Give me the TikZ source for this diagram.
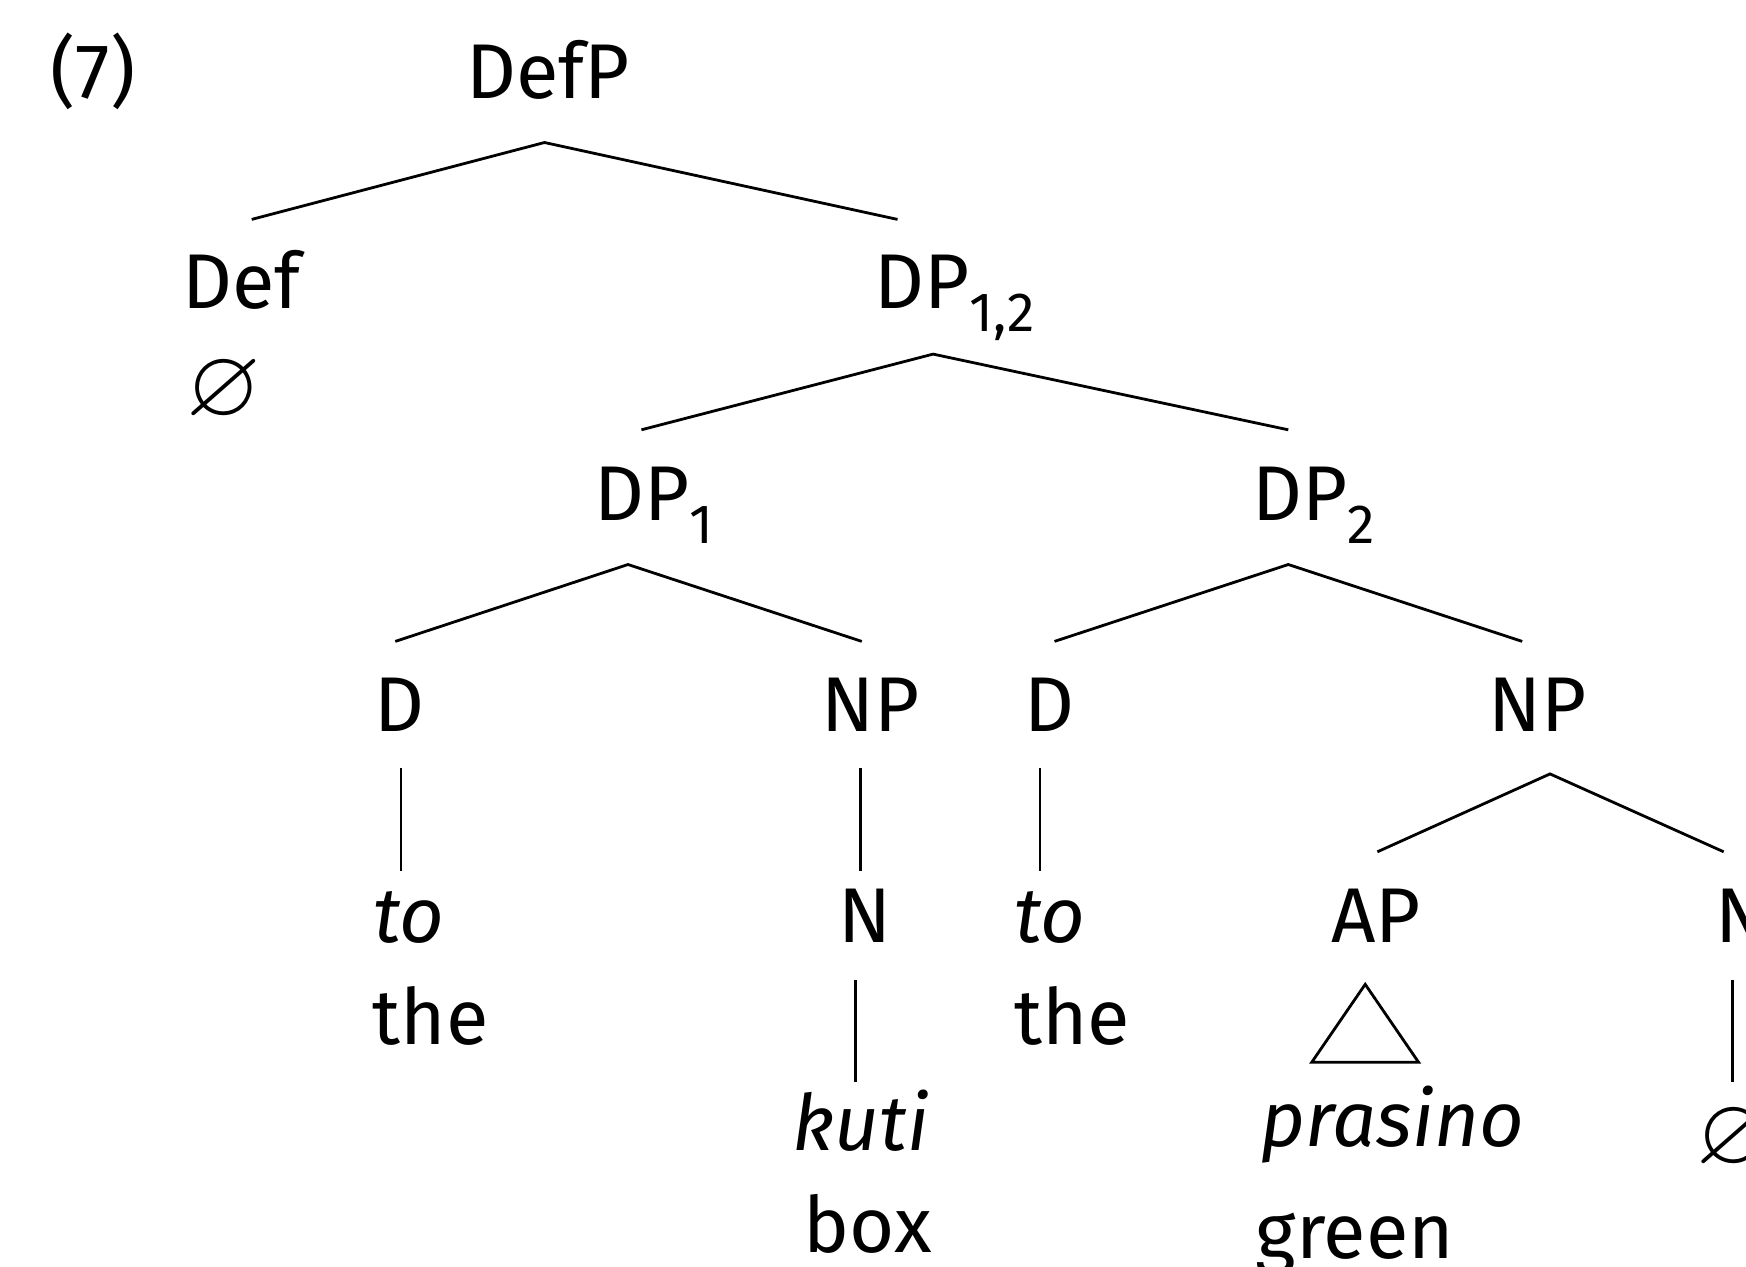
\documentclass[tikz,border=0pt]{standalone}
\usepackage{amssymb}
\usepackage{fontspec}
\setmainfont{Fira Sans}
\newcommand{\lowsub}[1]{\raisebox{-0.3em}{\fontsize{13.8}{14}\selectfont #1}}

\begin{document}
\begin{tikzpicture}[x=0.25pt,y=-0.25pt,
  lbl/.style={anchor=base west,inner sep=0pt,font=\fontsize{19.4}{24}\selectfont},
  null/.style={inner sep=0pt,font=\fontsize{24}{28}\selectfont},
  branch/.style={line width=0.7pt}]
  \useasboundingbox (0,0) rectangle (1746,1266);
  % example number
  \node[lbl] (ex) at (50,98) {(7)};
  % labels
  \node[lbl] (defp) at (465.4,98) {DefP};
  \node[lbl] (def) at (181.5,308.4) {Def};
  \node[null] (defnull) at (223.8,391) {$\varnothing$};
  \node[lbl] (dp12) at (874.1,308.4) {DP\lowsub{1,2}};
  \node[lbl] (dp1) at (593.5,520) {DP\lowsub{1}};
  \node[lbl] (dp2) at (1251.6,520) {DP\lowsub{2}};
  \node[lbl] (d1) at (374.1,731.6) {D};
  \node[lbl] (np1) at (820.6,731.6) {NP};
  \node[lbl] (d2) at (1023.3,731.6) {D};
  \node[lbl] (np2) at (1487.6,731.6) {NP};
  \node[lbl] (n1) at (837.4,942) {N};
  \node[lbl] (ap) at (1330.6,942) {AP};
  \node[lbl] (n2) at (1714.8,942) {N};
  % words and glosses
  \node[lbl] (to1) at (373,942) {\textit{to}};
  \node[lbl] (the1) at (371.9,1044.5) {the};
  \node[lbl] (to2) at (1013.3,942) {\textit{to}};
  \node[lbl] (the2) at (1013.3,1044.5) {the};
  \node[lbl] (kuti) at (791.7,1150.2) {\textit{kuti}};
  \node[lbl] (box) at (803,1252.7) {box};
  \node[lbl] (prasino) at (1259.4,1146.9) {\textit{prasino}};
  \node[lbl] (green) at (1254.9,1258.3) {green};
  \node[null] (n2null) at (1734,1139) {$\varnothing$};
  % branches
  \draw[branch] (251.7,219.4) coordinate (def-t) -- (544.5,142.5) coordinate (defp-b)
    -- (897.5,219.4) coordinate (dp12-t);
  \draw[branch] (641.4,429.8) coordinate (dp1-t) -- (933.1,354.1) coordinate (dp12-b)
    -- (1288.3,429.8) coordinate (dp2-t);
  \draw[branch] (395.3,641.4) coordinate (d1-t) -- (628,564.5) coordinate (dp1-b)
    -- (861.8,641.4) coordinate (np1-t);
  \draw[branch] (1054.5,641.4) coordinate (d2-t) -- (1288.3,564.5) coordinate (dp2-b)
    -- (1522.2,641.4) coordinate (np2-t);
  \draw[branch] (1377.4,851.8) coordinate (ap-t) -- (1550,773.9) coordinate (np2-b)
    -- (1723.7,851.8) coordinate (n2-t);
  % unary branches
  \draw[branch] (400.9,768.3) coordinate (d1-b) -- (400.9,870.8) coordinate (to1-t);
  \draw[branch] (860.7,768.3) coordinate (np1-b) -- (860.7,870.8) coordinate (n1-t);
  \draw[branch] (1040,768.3) coordinate (d2-b) -- (1040,870.8) coordinate (to2-t);
  \draw[branch] (855.2,979.9) coordinate (n1-b) -- (855.2,1082.3) coordinate (kuti-t);
  \draw[branch] (1732.6,979.9) coordinate (n2-b) -- (1732.6,1082.3) coordinate (n2null-t);
  % roof over AP
  \draw[branch] (1365.2,984.3) coordinate (ap-b) -- (1311.7,1062.3) -- (1418.6,1062.3) -- cycle;
\end{tikzpicture}
\end{document}
